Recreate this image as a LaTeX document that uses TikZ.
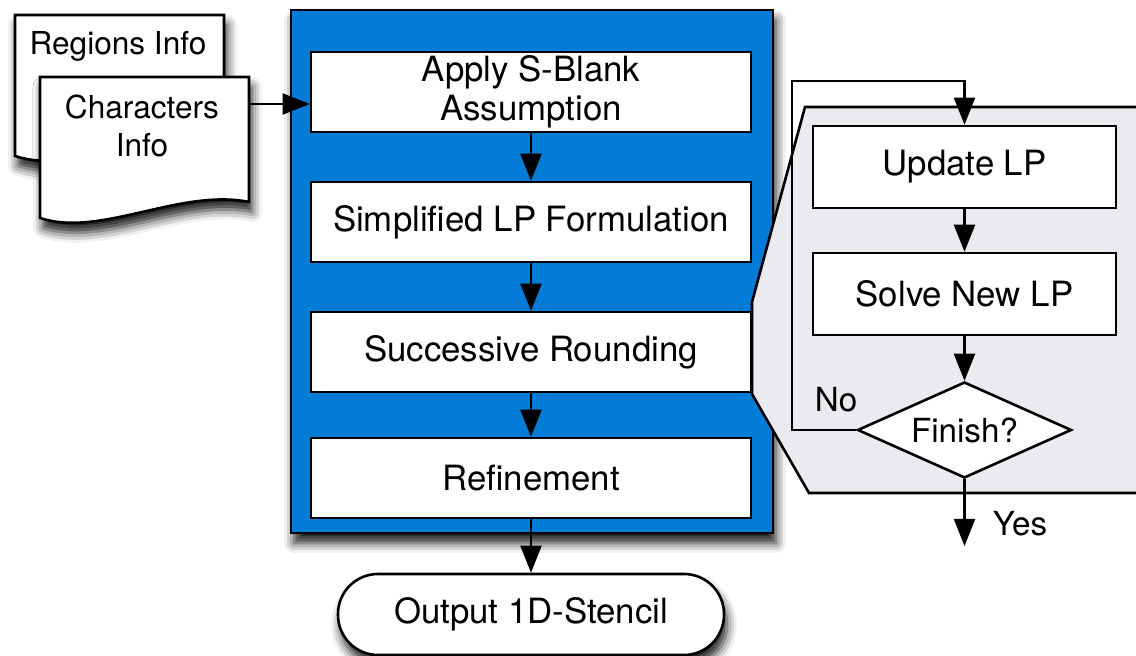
\documentclass[tikz,border=0pt]{standalone}
\usepackage{fontspec}
\setmainfont{TeX Gyre Heros}
\usetikzlibrary{shapes.geometric,shadows.blur,decorations.markings}
\definecolor{stageblue}{RGB}{2,124,214}
\definecolor{zoomgray}{RGB}{234,235,239}

\begin{document}
\begin{tikzpicture}[x=0.5pt,y=-0.5pt,
  every node/.style={font=\fontsize{17.4pt}{19.5pt}\selectfont, align=center},
  small/.style={font=\fontsize{16.6pt}{19.5pt}\selectfont},
  doctext/.style={font=\fontsize{15.8pt}{19pt}\selectfont},
  line/.style={line width=1.3pt},
  % connector with a solid triangular head placed at its end
  flow/.style={line width=1.3pt, shorten >=10pt,
      postaction={decorate},
      decoration={markings, mark=at position 1 with
        {\fill[black] (0pt,0pt) -- (-13.5pt,5.4pt) -- (-13.5pt,-5.4pt) -- cycle;}}},
  soft/.style={blur shadow={shadow xshift=1.5pt, shadow yshift=-5pt,
      shadow blur radius=5pt, shadow opacity=90}},
  stepbox/.style={draw, line, fill=white, minimum width=220pt,
      minimum height=40pt, inner sep=0pt},
  loopbox/.style={draw, line, fill=white, minimum width=151.5pt,
      minimum height=41pt, inner sep=0pt},
  docpage/.style={draw, line, fill=white, soft},
]
\useasboundingbox (0,0) rectangle (1136,656);

% input documents
\path[docpage] (15,15) -- (224,15) -- (224,140)
  .. controls (155,126) and (75,176) .. (15,156) -- cycle;
\node[doctext] (regions) at (118,46) {Regions Info};
\path[docpage] (40,77) -- (249,77) -- (249,202)
  .. controls (180,188) and (100,238) .. (40,218) -- cycle;
\node[doctext] (chars) at (142,126) {Characters\\Info};
\coordinate (charsout) at (249,104);

% main processing stage
\node[draw, line, fill=stageblue, minimum width=241pt, minimum height=261.5pt,
      inner sep=0pt, soft] (stage) at (532,271.5) {};

% zoomed view of the rounding step
\path[draw, line, fill=zoomgray] (1150,107) -- (805,107) -- (752,302)
  -- (752,394) -- (809,493) -- (1150,493) -- cycle;

\node[stepbox] (apply)  at (531,92)  {Apply S-Blank\\Assumption};
\node[stepbox] (simple) at (531,222) {Simplified LP Formulation};
\node[stepbox] (round)  at (531,352) {Successive Rounding};
\node[stepbox] (refine) at (531,478) {Refinement};

\node[draw, line, fill=white, rounded corners=20pt, minimum width=193pt,
      minimum height=40.5pt, inner sep=0pt, soft] (output) at (531,614.5)
      {Output 1D-Stencil};

\node[loopbox] (update) at (964.5,167) {Update LP};
\node[loopbox] (solve)  at (964.5,294) {Solve New LP};
\node[draw, line, fill=white, diamond, aspect=2.23, minimum width=107pt,
      minimum height=48pt, inner sep=0pt, small] (finish) at (964.5,430) {Finish?};

\coordinate (loopcorner) at (792,81);
\coordinate (yesend) at (964.5,546);
\node[small] (no)  at (836,400) {No};
\node[small] (yes) at (1020,524) {Yes};

% connectors
\draw[flow] (charsout) -- (apply.west |- charsout);
\draw[flow] (apply) -- (simple);
\draw[flow] (simple) -- (round);
\draw[flow] (round) -- (refine);
\draw[flow] (refine) -- (output);
\draw[flow] (update) -- (solve);
\draw[flow] (solve) -- (finish);
\draw[flow] (finish.west) -| (loopcorner) -| (update.north);
\draw[flow] (finish.south) -- (yesend);
\end{tikzpicture}
\end{document}
